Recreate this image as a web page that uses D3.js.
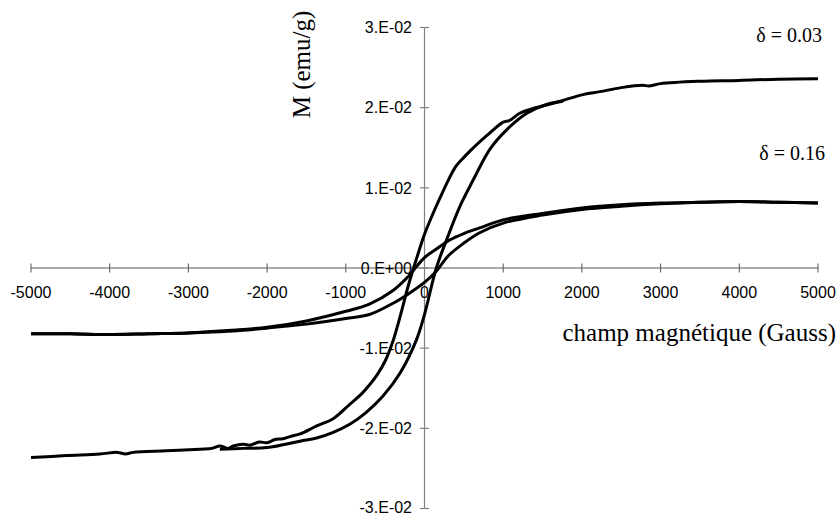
<!DOCTYPE html>
<html>
<head>
<meta charset="utf-8">
<script src="https://cdn.jsdelivr.net/npm/d3@7"></script>
<style>
  html, body { margin: 0; padding: 0; background: #fff; }
  svg { display: block; }
</style>
</head>
<body>
<script>
// ---------------- DATA ----------------
const xTicks = [-5000, -4000, -3000, -2000, -1000, 0, 1000, 2000, 3000, 4000, 5000];
const yTicks = [-0.03, -0.02, -0.01, 0, 0.01, 0.02, 0.03];
const yTickLabels = ["-3.E-02", "-2.E-02", "-1.E-02", "0.E+00", "1.E-02", "2.E-02", "3.E-02"];

// delta = 0.03, descending branch (full range), field in Gauss
const bigDescH = [-5000, -4550, -4125, -3900, -3800, -3700, -3280, -2850, -2700, -2600, -2500, -2430, -2300, -2220, -2100, -2000, -1900, -1800, -1700, -1580, -1370, -1160, -950, -800, -700, -600, -500, -400, -300, -200, -100, 0, 100, 200, 300, 400, 500, 600, 790, 1000, 1080, 1210, 1380, 1500, 1760, 2000, 2230, 2500, 2770, 2850, 3000, 3500, 4000, 4500, 5000];
const bigDescM = [-0.02365, -0.0234, -0.0232, -0.0230, -0.0232, -0.0230, -0.0228, -0.0226, -0.0225, -0.0222, -0.0225, -0.0222, -0.0220, -0.0221, -0.0217, -0.0218, -0.0214, -0.0213, -0.0210, -0.0207, -0.0197, -0.0188, -0.0170, -0.0157, -0.0146, -0.0133, -0.0116, -0.0091, -0.0057, -0.0020, 0.0012, 0.0042, 0.0066, 0.0088, 0.0109, 0.0127, 0.0138, 0.0148, 0.0165, 0.0182, 0.0184, 0.0193, 0.0199, 0.0202, 0.0209, 0.0216, 0.0220, 0.0225, 0.0228, 0.0227, 0.0230, 0.0233, 0.0234, 0.02355, 0.0236];

// delta = 0.03, ascending branch (partial)
const bigAscH = [-2600, -2300, -2000, -1580, -1370, -1160, -950, -740, -530, -310, -100, 0, 150, 280, 450, 620, 830, 1040, 1300, 1550, 1760];
const bigAscM = [-0.0226, -0.0225, -0.0224, -0.0216, -0.0212, -0.0205, -0.0195, -0.0180, -0.0160, -0.0131, -0.0089, -0.0058, 0.0000, 0.0035, 0.0077, 0.0110, 0.0148, 0.0172, 0.0193, 0.0204, 0.0208];

// delta = 0.16, descending branch
const smallDescH = [-5000, -4500, -4000, -3500, -3000, -2500, -2000, -1500, -1000, -700, -400, -200, -100, 0, 200, 320, 500, 700, 1000, 1500, 2000, 2500, 3000, 3500, 4000, 4500, 5000];
const smallDescM = [-0.0082, -0.0082, -0.0083, -0.0082, -0.0081, -0.0078, -0.0074, -0.0066, -0.0054, -0.0045, -0.0028, -0.0010, 0.0002, 0.0013, 0.0027, 0.0035, 0.0043, 0.0050, 0.0060, 0.0068, 0.0075, 0.0079, 0.0081, 0.0082, 0.0083, 0.0082, 0.0081];

// delta = 0.16, ascending branch
const smallAscH = [-5000, -4500, -4000, -3500, -3000, -2500, -2000, -1500, -1000, -700, -400, -200, 0, 150, 300, 500, 700, 1000, 1500, 2000, 2500, 3000, 3500, 4000, 4500, 5000];
const smallAscM = [-0.0082, -0.0082, -0.0083, -0.0082, -0.0081, -0.0079, -0.0075, -0.0070, -0.0063, -0.0058, -0.0044, -0.0032, -0.0018, -0.0004, 0.0015, 0.0031, 0.0044, 0.0056, 0.0066, 0.0073, 0.0077, 0.0080, 0.0082, 0.0083, 0.0082, 0.0081];

const seriesLabels = ["δ = 0.03", "δ = 0.16"];
const xTitle = "champ magnétique (Gauss)";
const yTitle = "M (emu/g)";

// ---------------- CHART ----------------
const W = 838, H = 515;
const svg = d3.select("body").append("svg").attr("width", W).attr("height", H)
  .style("background", "#fff");

const x = d3.scaleLinear().domain([-5000, 5000]).range([31, 818]);
const y = d3.scaleLinear().domain([-0.03, 0.03]).range([508.5, 27.5]);

// x axis (crossing ticks) at M = 0
const xAxisG = svg.append("g").attr("transform", `translate(0,${y(0)})`);
xAxisG.append("line").attr("x1", x(-5000)).attr("x2", x(5000)).attr("stroke", "#555").attr("stroke-width", 1);
xAxisG.selectAll("line.t").data(xTicks).join("line").attr("class", "t")
  .attr("x1", d => x(d)).attr("x2", d => x(d)).attr("y1", -4.5).attr("y2", 4.5)
  .attr("stroke", "#555").attr("stroke-width", 1);

// y axis at H = 0
const yAxisG = svg.append("g").attr("transform", `translate(${x(0)},0)`);
yAxisG.append("line").attr("y1", y(-0.03)).attr("y2", y(0.03)).attr("stroke", "#808080").attr("stroke-width", 1.2);
yAxisG.selectAll("line.t").data(yTicks).join("line").attr("class", "t")
  .attr("y1", d => y(d)).attr("y2", d => y(d)).attr("x1", -4.5).attr("x2", 4.5)
  .attr("stroke", "#808080").attr("stroke-width", 1.2);

// curves
const line = d3.line().x(d => x(d[0])).y(d => y(d[1])).curve(d3.curveCatmullRom.alpha(0.5));
const branches = [
  d3.zip(bigDescH, bigDescM),
  d3.zip(bigAscH, bigAscM),
  d3.zip(smallDescH, smallDescM),
  d3.zip(smallAscH, smallAscM)
];
svg.append("g").selectAll("path").data(branches).join("path")
  .attr("d", line).attr("fill", "none").attr("stroke", "#000")
  .attr("stroke-width", 3).attr("stroke-linejoin", "round").attr("stroke-linecap", "butt");

// tick labels
svg.append("g").selectAll("text").data(xTicks).join("text")
  .attr("x", d => x(d)).attr("y", y(0) + 29.5)
  .attr("text-anchor", "middle")
  .attr("font-family", "Liberation Sans, Arial, sans-serif").attr("font-size", 16)
  .attr("fill", "#000").text(d => d);

svg.append("g").selectAll("text").data(yTicks).join("text")
  .attr("x", x(0) - 12.5).attr("y", d => y(d)).attr("dy", d => d === -0.03 ? "0.25em" : "0.36em")
  .attr("text-anchor", "end")
  .attr("font-family", "Liberation Sans, Arial, sans-serif").attr("font-size", 16)
  .attr("fill", "#000").text((d, i) => yTickLabels[i]);

// titles
svg.append("text")
  .attr("transform", `translate(310,64.5) rotate(-90)`)
  .attr("text-anchor", "middle")
  .attr("font-family", "Liberation Serif, Times New Roman, serif").attr("font-size", 25)
  .text(yTitle);

svg.append("text")
  .attr("x", 836).attr("y", 341).attr("text-anchor", "end")
  .attr("font-family", "Liberation Serif, Times New Roman, serif").attr("font-size", 25)
  .text(xTitle);

// series labels
svg.append("text").attr("x", 822).attr("y", 41.5).attr("text-anchor", "end")
  .attr("font-family", "Liberation Serif, Times New Roman, serif").attr("font-size", 20)
  .text(seriesLabels[0]);
svg.append("text").attr("x", 825).attr("y", 160).attr("text-anchor", "end")
  .attr("font-family", "Liberation Serif, Times New Roman, serif").attr("font-size", 20)
  .text(seriesLabels[1]);
</script>
</body>
</html>
